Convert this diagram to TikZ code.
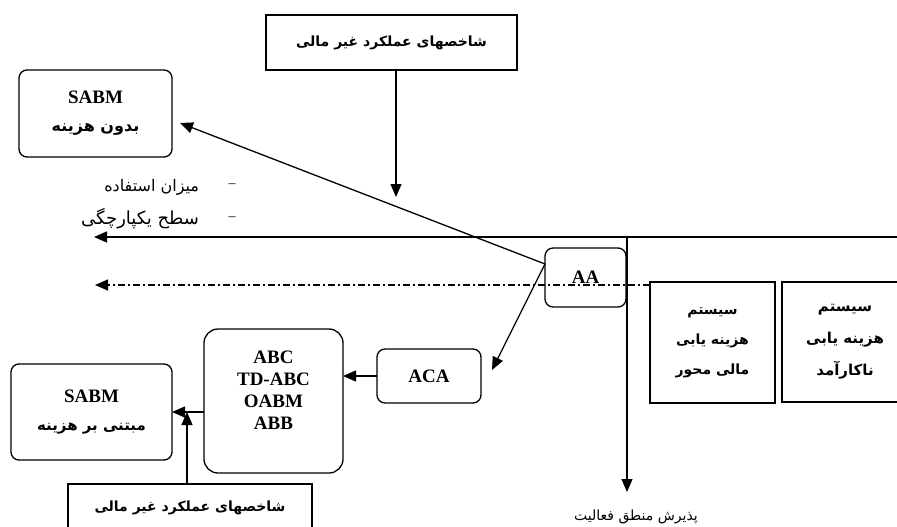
\documentclass[tikz,border=0pt]{standalone}
\usepackage{fontspec}
\setmainfont{Liberation Serif}
\newfontfamily\farsifont[Script=Arabic]{DejaVu Sans}
\TeXXeTstate=1
\usetikzlibrary{arrows.meta}
\newcommand{\rl}[1]{\beginR #1\endR}
\newcommand{\farsb}{\farsifont\fontsize{15}{28}\selectfont\bfseries}

\begin{document}
\begin{tikzpicture}[x=1pt,y=-1pt,line width=1.3pt,
				box/.style={draw,rectangle,inner sep=0pt,outer sep=0pt,align=center},
				rbox/.style={box,rounded corners=8pt},
				latin/.style={font=\fontsize{19}{28}\selectfont\bfseries},
				farsi/.style={font=\farsifont\fontsize{14}{30}\selectfont\bfseries},
				farsireg/.style={font=\farsifont\fontsize{15}{18}\selectfont},
				arr/.style={-{Triangle[length=13pt,width=11pt]}},
				dashdot/.style={dash pattern=on 7pt off 3pt on 2pt off 3pt}]
				\path[use as bounding box,clip] (0,0) rectangle (897,527);
				\node[box,farsi,minimum width=251pt,minimum height=55pt]              (kpiA)   at (391.5,42.5)  {\rl{شاخصهای عملکرد غیر مالی}};
				\node[rbox,latin,minimum width=153pt,minimum height=87pt]             (sabmA)  at (95.5,113.5)  {SABM\\{\farsifont\fontsize{16}{28}\selectfont\bfseries\rl{بدون هزینه}}};
				\node[rbox,latin,minimum width=81pt,minimum height=59pt]              (aa)     at (585.5,277.5) {AA};
				\node[rbox,latin,minimum width=104pt,minimum height=54pt]             (aca)    at (429,376)     {ACA};
				\node[rbox,rounded corners=14pt,minimum width=139pt,minimum height=144pt] (abc) at (273.5,401)   {};
				\node[align=center,font=\fontsize{19}{22}\selectfont\bfseries]       (abctxt) at (273.5,390)     {ABC\\TD-ABC\\OABM\\ABB};
				\node[rbox,latin,minimum width=161pt,minimum height=96pt]             (sabmB)  at (91.5,412)    {SABM\\{\farsb\rl{مبتنی بر هزینه}}};
				\node[box,farsi,minimum width=244pt,minimum height=48pt]              (kpiB)   at (190,508)     {\rl{شاخصهای عملکرد غیر مالی}};
				\node[box,farsi,minimum width=125pt,minimum height=121pt]             (sysA)   at (712.5,342.5) {\rl{سیستم}\\\rl{هزینه یابی}\\\rl{مالی محور}};
				\node[box,farsi,font=\farsifont\fontsize{15}{32}\selectfont\bfseries,minimum width=126pt,minimum height=120pt] (sysB) at (845,342) {\rl{سیستم}\\\rl{هزینه یابی}\\\rl{ناکارآمد}};
				\node[farsireg,font=\farsifont\fontsize{14}{16}\selectfont]           (accept) at (636,517)     {\rl{پذیرش منطق فعالیت}};
				\node[font=\fontsize{14}{16}\selectfont]                              (dashA)  at (232,186)     {–};
				\node[farsireg,font=\farsifont\fontsize{16}{18}\selectfont,anchor=east] (usage) at (203,187)    {\rl{میزان استفاده}};
				\node[font=\fontsize{14}{16}\selectfont]                              (dashB)  at (232,219)     {–};
				\node[farsireg,font=\farsifont\fontsize{18}{20}\selectfont,anchor=east] (integ) at (203,219)    {\rl{سطح یکپارچگی}};
				\coordinate (lineR)   at (900,237);
				\coordinate (lineL)   at (94,237);
				\coordinate (junc)    at (627,237);
				\coordinate (accTop)  at (627,492);
				\coordinate (ddL)     at (95,285);
				\coordinate (kpiEnd)  at (396,197);
				\coordinate (aaOut)   at ([yshift=13.5pt]aa.west);
				
				\draw[arr]         (lineR) -- (lineL);
				\draw[arr]         (junc) -- (accTop);
				\draw[arr]         ([xshift=4.5pt]kpiA.south) -- (kpiEnd);
				\draw[arr]         (aaOut) -- ([xshift=8pt,yshift=-9.5pt]sabmA.east);
				\draw[arr]         (aaOut) -- ([xshift=11pt,yshift=6pt]aca.east);
				\draw[arr]         (aca.west) -- (aca.west -| abc.east);
				\draw[arr]         (abc.west |- sabmB.east) -- (sabmB.east);
				\draw[arr]         ([xshift=-3pt]kpiB.north) -- ([xshift=-3pt]kpiB.north |- sabmB.east);
				\draw[arr,dashdot] ([yshift=-3pt]sysA.north west) -- (ddL);
			\end{tikzpicture}
\end{document}
